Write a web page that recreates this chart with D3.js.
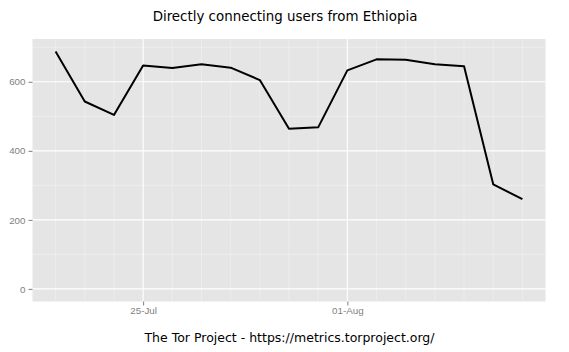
<!DOCTYPE html>
<html>
<head>
<meta charset="utf-8">
<script src="https://cdn.jsdelivr.net/npm/d3@7"></script>
<style>
  body { margin: 0; background: #fff; }
  svg { display: block; font-family: "DejaVu Sans", sans-serif; }
  .axis text { fill: #7f7f7f; font-size: 9.8px; }
  .axis line { stroke: #7f7f7f; }
  .axis path { display: none; }
</style>
</head>
<body>
<svg id="chart" width="569" height="352"></svg>
<script>
const dates = [
  "2013-07-22", "2013-07-23", "2013-07-24", "2013-07-25", "2013-07-26",
  "2013-07-27", "2013-07-28", "2013-07-29", "2013-07-30", "2013-07-31",
  "2013-08-01", "2013-08-02", "2013-08-03", "2013-08-04", "2013-08-05",
  "2013-08-06", "2013-08-07",
];
const users = [
  688, 543, 504, 647, 640, 651, 641, 605, 464, 468,
  633, 665, 664, 651, 645, 303, 260,
];
const yTicks = [0, 200, 400, 600];
const yMinor = [100, 300, 500, 700];
const xTicks = ["2013-07-25", "2013-08-01"];

const parse = d3.utcParse("%Y-%m-%d");
const data = dates.map((d, i) => ({ date: parse(d), value: users[i] }));

const panel = { left: 32.5, right: 545.5, top: 39, bottom: 301.5 };

const chart = d3.select("#chart");

const hour = 3600 * 1000;
const xScale = d3
  .scaleUtc()
  .domain([
    new Date(data[0].date.getTime() - 19 * hour),
    new Date(data[data.length - 1].date.getTime() + 19 * hour),
  ])
  .range([panel.left, panel.right]);

const yScale = d3
  .scaleLinear()
  .domain([-36.5, 724])
  .range([panel.bottom, panel.top]);

// panel background
chart
  .append("rect")
  .attr("x", panel.left)
  .attr("y", panel.top)
  .attr("width", panel.right - panel.left)
  .attr("height", panel.bottom - panel.top)
  .attr("fill", "#e5e5e5");

// minor grid, one line per day
const dayMinor = d3.utcDay
  .range(xScale.domain()[0], xScale.domain()[1])
  .filter((d) => !xTicks.includes(d3.utcFormat("%Y-%m-%d")(d)));

chart
  .append("g")
  .selectAll("line")
  .data(dayMinor)
  .enter()
  .append("line")
  .attr("x1", (d) => xScale(d))
  .attr("x2", (d) => xScale(d))
  .attr("y1", panel.top)
  .attr("y2", panel.bottom)
  .attr("stroke", "#f2f2f2")
  .attr("stroke-width", 0.6);

chart
  .append("g")
  .selectAll("line")
  .data(yMinor)
  .enter()
  .append("line")
  .attr("x1", panel.left)
  .attr("x2", panel.right)
  .attr("y1", (d) => yScale(d))
  .attr("y2", (d) => yScale(d))
  .attr("stroke", "#f2f2f2")
  .attr("stroke-width", 0.6);

// major grid
chart
  .append("g")
  .selectAll("line")
  .data(yTicks)
  .enter()
  .append("line")
  .attr("x1", panel.left)
  .attr("x2", panel.right)
  .attr("y1", (d) => yScale(d))
  .attr("y2", (d) => yScale(d))
  .attr("stroke", "#ffffff")
  .attr("stroke-width", 1.1);

chart
  .append("g")
  .selectAll("line")
  .data(xTicks.map(parse))
  .enter()
  .append("line")
  .attr("x1", (d) => xScale(d))
  .attr("x2", (d) => xScale(d))
  .attr("y1", panel.top)
  .attr("y2", panel.bottom)
  .attr("stroke", "#ffffff")
  .attr("stroke-width", 1.1);

// line
const line = d3
  .line()
  .x((d) => xScale(d.date))
  .y((d) => yScale(d.value));

chart
  .append("path")
  .datum(data)
  .attr("d", line)
  .attr("fill", "none")
  .attr("stroke", "#000")
  .attr("stroke-width", 2)
  .attr("stroke-linejoin", "round");

// axes
const xAxis = d3
  .axisBottom(xScale)
  .tickValues(xTicks.map(parse))
  .tickFormat(d3.utcFormat("%d-%b"))
  .tickSize(4)
  .tickPadding(2);

chart
  .append("g")
  .attr("class", "axis")
  .attr("transform", `translate(0, ${panel.bottom})`)
  .call(xAxis);

const yAxis = d3
  .axisLeft(yScale)
  .tickValues(yTicks)
  .tickSize(4)
  .tickPadding(3);

chart
  .append("g")
  .attr("class", "axis")
  .attr("transform", `translate(${panel.left}, 0)`)
  .call(yAxis);

// title and caption
chart
  .append("text")
  .attr("x", 285)
  .attr("y", 21)
  .attr("text-anchor", "middle")
  .attr("font-size", 13.4)
  .attr("fill", "#000")
  .text("Directly connecting users from Ethiopia");

chart
  .append("text")
  .attr("x", 289.5)
  .attr("y", 342)
  .attr("text-anchor", "middle")
  .attr("font-size", 12.5)
  .attr("fill", "#000")
  .text("The Tor Project - https://metrics.torproject.org/");
</script>
</body>
</html>
